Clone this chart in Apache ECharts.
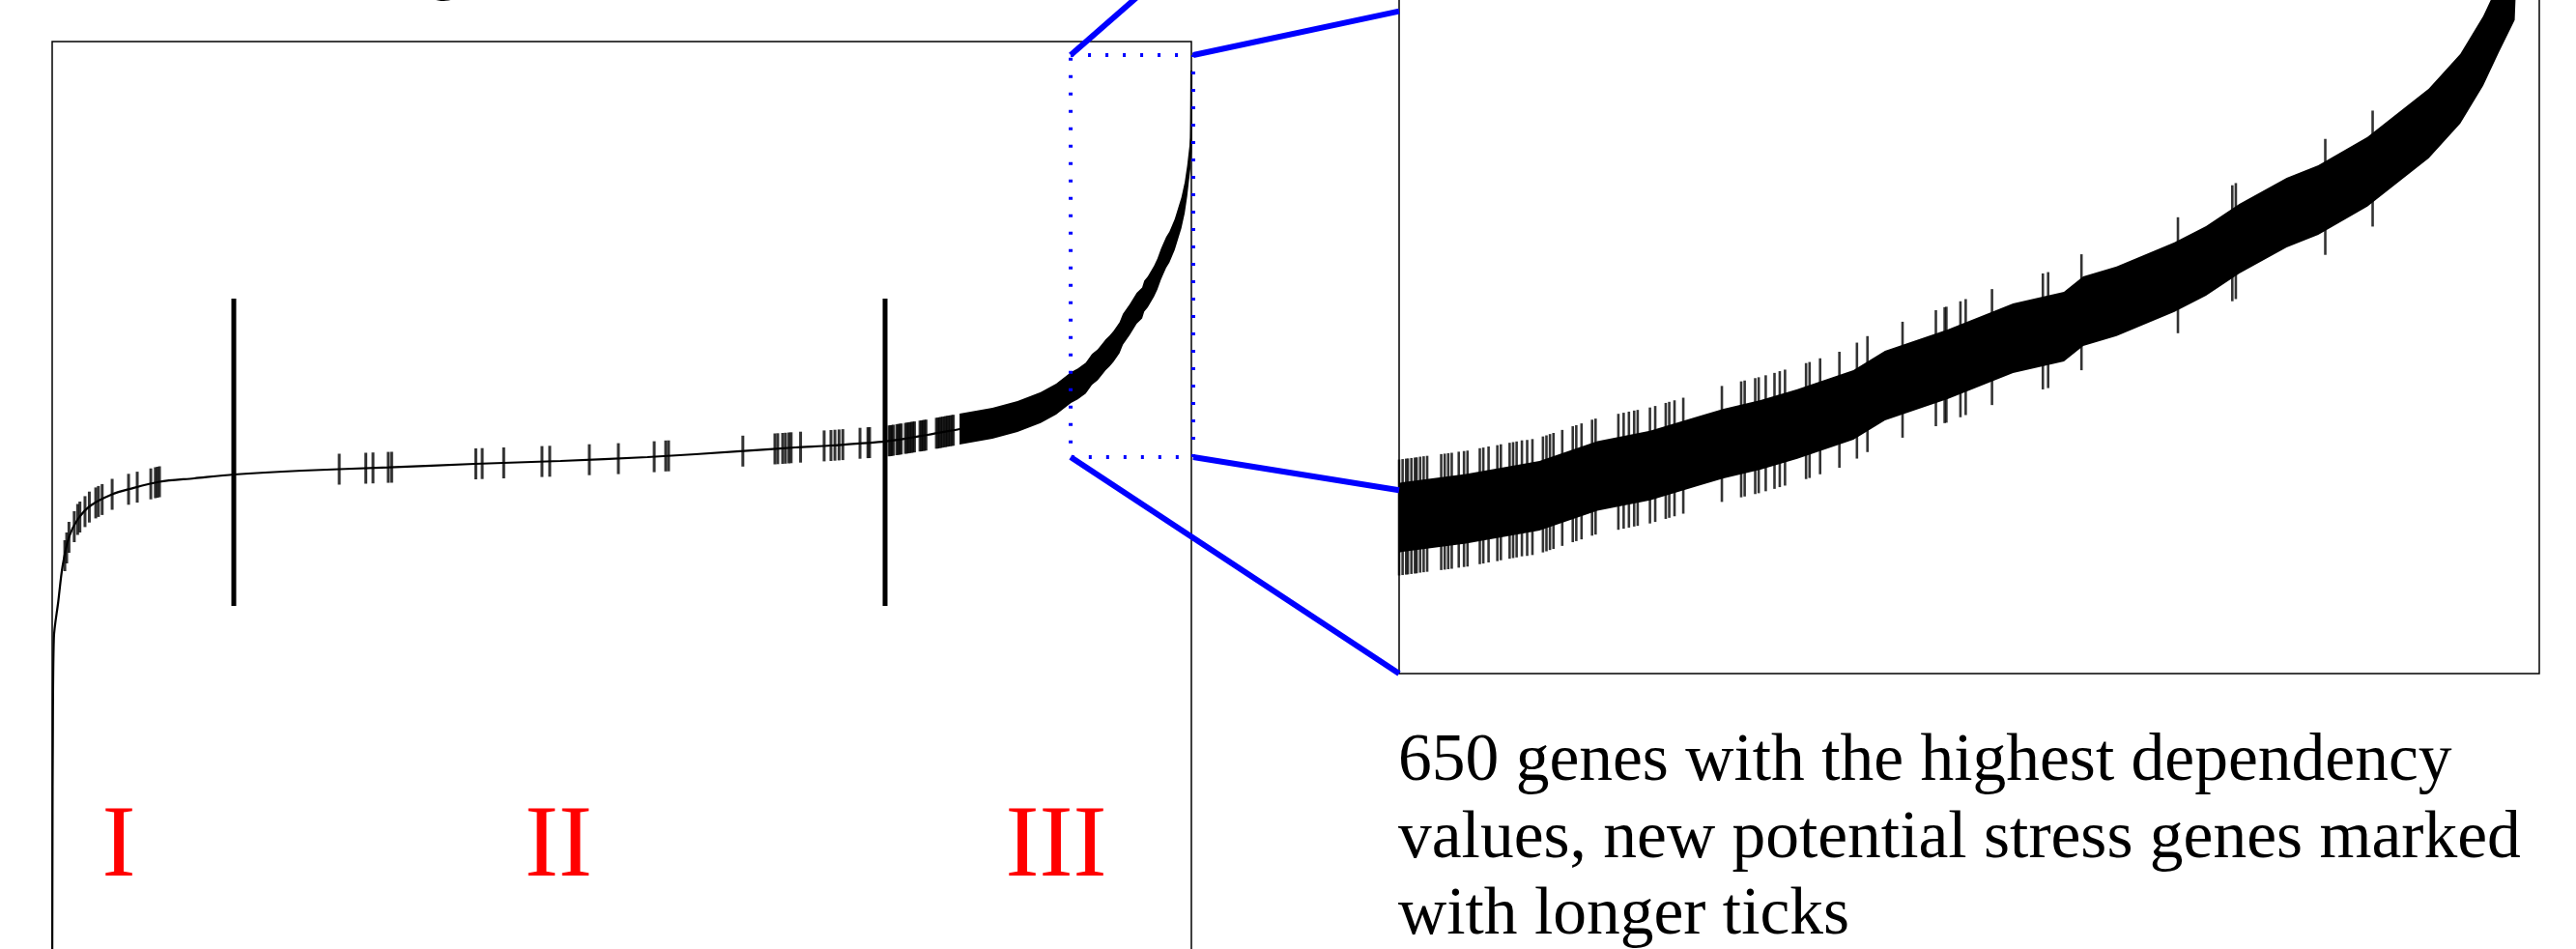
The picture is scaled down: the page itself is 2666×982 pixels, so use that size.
<!DOCTYPE html>
<html>
<head>
<meta charset="utf-8">
<script src="https://cdn.jsdelivr.net/npm/echarts@6.0.0/dist/echarts.min.js"></script>
<style>
  html, body { margin: 0; padding: 0; background: #fff; }
  #el { width: 2666px; height: 982px; }
</style>
</head>
<body>
<div id="el"></div>
<script>
// genes sorted by dependency value, rank 0 = lowest
const curveRank = [0, 2, 3, 9, 32, 55, 89, 135, 205, 318,
  410, 569, 753, 963, 1324, 1783, 2239, 2695, 3156, 3668,
  3940, 4129, 4421, 4641, 4811, 4985, 5118, 5241, 5323, 5402,
  5438, 5480, 5513, 5543, 5571, 5585, 5606, 5627, 5659, 5677,
  5713, 5750, 5779, 5790, 5809, 5842, 5860, 5879, 5906, 5924,
  5952, 5987, 6005, 6018, 6027, 6036, 6040];
const curveValue = [0, 20, 25.6, 38.3, 42.0, 45.7, 48.7, 50.55, 52.0, 53.15,
  53.7, 54.45, 54.8, 55.2, 55.6, 55.94, 56.3, 56.6, 57.0, 57.63,
  58.0, 58.2, 58.63, 59.3, 59.9, 60.5, 61.2, 62.13, 63.0, 64.19,
  64.57, 65.17, 66.08, 66.56, 67.23, 67.57, 67.97, 68.46, 69.34, 70.23,
  71.22, 72.41, 72.94, 73.65, 74.1, 75.21, 75.96, 76.98, 78.18, 78.76,
  80.05, 82.27, 83.87, 85.6, 87.15, 88.62, 97.0];

// known stress genes (short ticks, whole ranking)
const stressRank = [67, 77, 89, 117, 135, 147, 174, 197, 231, 245, 265, 318, 405, 451, 523, 547, 558, 569,
  1522, 1663, 1701, 1782, 1800, 2246, 2280, 2394, 2597, 2638, 2848, 3002, 3192, 3253, 3268,
  3662, 3832, 3847, 3873, 3888, 3906, 3918, 3968, 4093, 4129, 4150, 4172, 4192, 4283, 4325, 4334,
  4437, 4445, 4452, 4460, 4478, 4486, 4494, 4502, 4524, 4532, 4540, 4548, 4556, 4564, 4572,
  4601, 4609, 4617, 4625, 4633, 4688, 4696, 4704, 4712, 4720, 4729, 4737, 4745, 4753, 4761, 4770, 4778];
const stressValue = [46.8, 47.6, 48.7, 49.8, 50.55, 50.8, 51.36, 51.83, 52.26, 52.41, 52.61, 53.15, 53.67, 53.89, 54.23, 54.35, 54.4, 54.45,
  55.75, 55.85, 55.88, 55.94, 55.95, 56.3, 56.33, 56.4, 56.54, 56.57, 56.73, 56.84, 57.04, 57.12, 57.13,
  57.62, 57.85, 57.87, 57.9, 57.92, 57.95, 57.97, 58.03, 58.16, 58.2, 58.23, 58.26, 58.29, 58.43, 58.49, 58.5,
  58.68, 58.7, 58.72, 58.75, 58.8, 58.83, 58.85, 58.88, 58.94, 58.97, 58.99, 59.02, 59.04, 59.07, 59.09,
  59.18, 59.2, 59.23, 59.25, 59.28, 59.47, 59.49, 59.52, 59.55, 59.58, 59.61, 59.64, 59.67, 59.7, 59.72, 59.75, 59.78];

// new potential stress genes among the top 650 (long ticks)
const newRank = [5400, 5402, 5404, 5405, 5407, 5409, 5410, 5412, 5414, 5416,
  5424, 5426, 5428, 5430, 5434, 5437, 5439,
  5446, 5448, 5451, 5456, 5458, 5463, 5465, 5467, 5470, 5473, 5476,
  5482, 5484, 5486, 5488, 5493, 5499, 5501, 5504, 5510, 5512,
  5525, 5528, 5531, 5534, 5536, 5543, 5546, 5552, 5554, 5557, 5562,
  5584, 5595, 5597, 5603, 5605, 5609, 5614, 5617, 5620, 5632, 5634, 5640,
  5651, 5661, 5667, 5687, 5706, 5711, 5712, 5720, 5723, 5738, 5767, 5770, 5789,
  5844, 5875, 5877, 5928, 5955];
const newValue = [64.17, 64.19, 64.21, 64.22, 64.24, 64.26, 64.27, 64.3, 64.32, 64.34,
  64.42, 64.44, 64.46, 64.48, 64.53, 64.56, 64.58,
  64.69, 64.72, 64.77, 64.83, 64.87, 64.94, 64.97, 65.0, 65.05, 65.07, 65.11,
  65.23, 65.28, 65.34, 65.39, 65.53, 65.7, 65.75, 65.83, 66.0, 66.05,
  66.27, 66.32, 66.37, 66.42, 66.45, 66.56, 66.63, 66.77, 66.82, 66.89, 67.01,
  67.55, 67.76, 67.8, 67.91, 67.95, 68.04, 68.15, 68.23, 68.3, 68.6, 68.65, 68.82,
  69.12, 69.54, 69.84, 70.5, 71.03, 71.17, 71.19, 71.44, 71.54, 72.0, 72.72, 72.78, 73.6,
  75.3, 76.77, 76.87, 78.9, 80.2];

const regionBreaks = [963, 4416];
const breakRange = [41.6, 73.4];
const regionLabels = ['I', 'II', 'III'];
const regionLabelRanks = [353, 2684, 5323];
const regionLabelValue = 16.5;
const zoomRanks = [5400, 6050];
const zoomValues = [57, 98.6];
const denseFromRank = 4811;
const caption = '650 genes with the highest dependency\nvalues, new potential stress genes marked\nwith longer ticks';

const SERIF = '"Liberation Serif", "DejaVu Serif", serif';
const chart = echarts.init(document.getElementById('el'));

function ticks(idx, ranks, values, size) {
  return {
    type: 'scatter', xAxisIndex: idx, yAxisIndex: idx, silent: true, z: 3,
    symbol: 'rect', symbolSize: size, itemStyle: { color: '#000' },
    data: ranks.map((r, i) => [r, values[i]]),
  };
}

// dense ticks merge into a band of constant vertical height
function band(idx, fromRank, half, clip) {
  const pts = curveRank.map((r, i) => [r, curveValue[i]]).filter(p => p[0] >= fromRank);
  return {
    type: 'custom', xAxisIndex: idx, yAxisIndex: idx, clip: clip, silent: true, z: 3,
    data: [pts[0]],
    renderItem: (params, api) => {
      const up = [], down = [];
      pts.forEach(p => {
        const c = api.coord(p);
        up.push([c[0], c[1] - half]);
        down.unshift([c[0], c[1] + half]);
      });
      return { type: 'polygon', shape: { points: up.concat(down) }, style: { fill: '#000' } };
    },
  };
}

chart.setOption({
  animation: false,
  grid: [
    { left: 54, top: 43, width: 1179, height: 1000, show: true, borderColor: '#000', borderWidth: 1.5,
      backgroundColor: 'transparent', outerBoundsMode: 'none' },
    { left: 1448, top: -240, width: 1180, height: 937, show: true, borderColor: '#000', borderWidth: 1.5,
      backgroundColor: '#fff', outerBoundsMode: 'none' },
  ],
  xAxis: [
    { gridIndex: 0, type: 'value', min: 0, max: 6040, show: false },
    { gridIndex: 1, type: 'value', min: zoomRanks[0], max: zoomRanks[1], show: false },
  ],
  yAxis: [
    { gridIndex: 0, type: 'value', min: 0, max: 100, show: false },
    { gridIndex: 1, type: 'value', min: zoomValues[0], max: zoomValues[1], show: false },
  ],
  series: [
    {
      type: 'line', xAxisIndex: 0, yAxisIndex: 0, silent: true, showSymbol: false, smooth: 0.3, clip: false,
      lineStyle: { color: '#000', width: 2.2 },
      data: curveRank.map((r, i) => [r, curveValue[i]]),
    },
    ticks(0, stressRank, stressValue, [3, 32]),
    band(0, denseFromRank, 16, false),
    {
      type: 'custom', xAxisIndex: 0, yAxisIndex: 0, silent: true, z: 4,
      data: regionBreaks.map(r => [r, breakRange[0], breakRange[1]]),
      encode: { x: 0, y: [1, 2] },
      renderItem: (params, api) => {
        const a = api.coord([api.value(0), api.value(1)]);
        const b = api.coord([api.value(0), api.value(2)]);
        return { type: 'line', shape: { x1: a[0], y1: a[1], x2: b[0], y2: b[1] },
          style: { stroke: '#000', lineWidth: 5 } };
      },
    },
    band(1, 5323, 36, true),
    ticks(1, newRank, newValue, [2.6, 120]),
  ],
});

// zoom box, connectors and texts, placed from the axes
const px = (g, r, v) => chart.convertToPixel({ gridIndex: g }, [r, v]);
const boxTL = px(0, zoomRanks[0], zoomValues[1]);
const boxBR = px(0, zoomRanks[1], zoomValues[0]);
const panTL = px(1, zoomRanks[0], zoomValues[1]);
const panBR = px(1, zoomRanks[1], zoomValues[0]);
const boxCorners = [[boxTL[0], boxTL[1]], [boxBR[0], boxTL[1]], [boxTL[0], boxBR[1]], [boxBR[0], boxBR[1]]];
const panCorners = [[panTL[0], panTL[1]], [panBR[0], panTL[1]], [panTL[0], panBR[1]], [panBR[0], panBR[1]]];

const connectors = boxCorners.map((a, i) => {
  const b = panCorners[i];
  const t = (panTL[0] - a[0]) / (b[0] - a[0]);
  return {
    type: 'line', silent: true, z: 5,
    shape: { x1: a[0], y1: a[1], x2: panTL[0], y2: a[1] + t * (b[1] - a[1]) },
    style: { stroke: '#0000ff', lineWidth: 6 },
  };
});

const labels = regionLabels.map((t, i) => {
  const p = px(0, regionLabelRanks[i], regionLabelValue);
  return {
    type: 'text', x: p[0], y: p[1], silent: true, z: 5,
    style: { text: t, font: '105px ' + SERIF, fill: '#ff0000', align: 'center', verticalAlign: 'middle' },
  };
});

chart.setOption({
  graphic: [
    {
      type: 'rect', silent: true, z: 6,
      shape: { x: boxTL[0], y: boxTL[1], width: boxBR[0] - boxTL[0], height: boxBR[1] - boxTL[1] },
      style: { fill: null, stroke: '#0000ff', lineWidth: 4, lineDash: [3, 15] },
    },
    ...connectors,
    ...labels,
    {
      type: 'text', x: panTL[0] - 1, y: 749, silent: true,
      style: { text: caption, font: '69.5px ' + SERIF, fill: '#000', lineHeight: 79.5, verticalAlign: 'top' },
    },
    {
      type: 'text', x: 443, y: -32, silent: true,
      style: { text: 'g', font: '69px ' + SERIF, fill: '#000', verticalAlign: 'middle' },
    },
  ],
});
</script>
</body>
</html>
